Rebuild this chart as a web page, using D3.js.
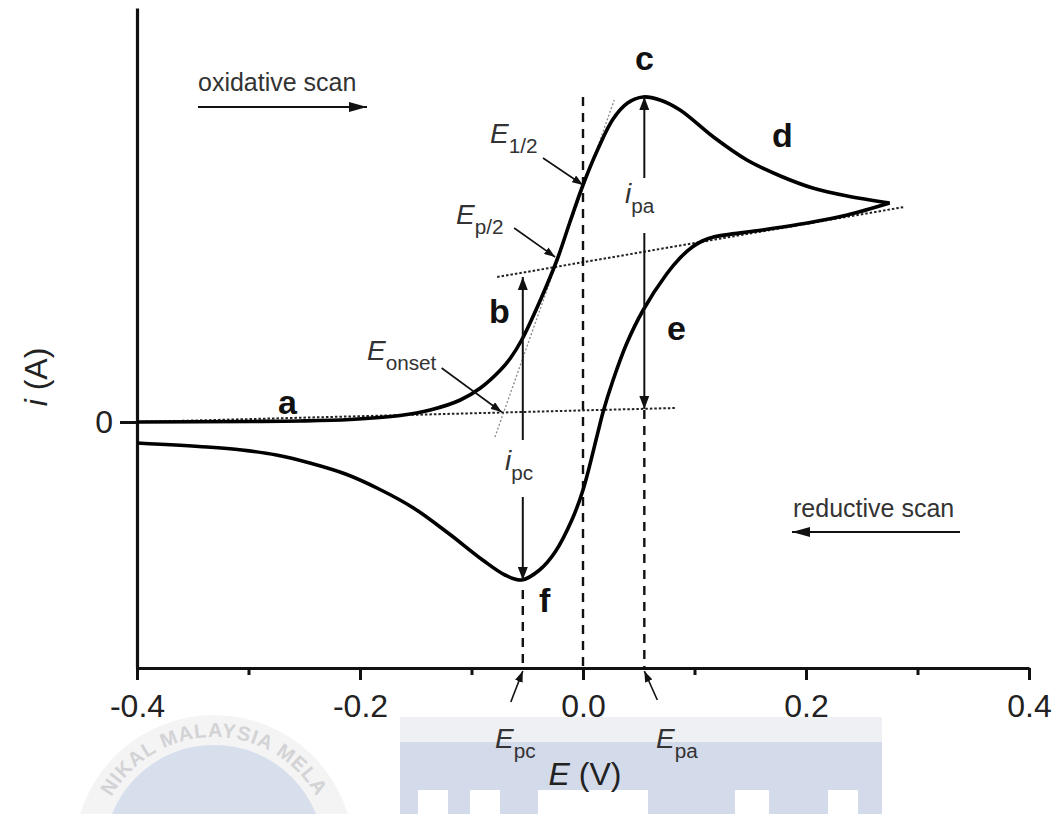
<!DOCTYPE html>
<html>
<head>
<meta charset="utf-8">
<script src="https://cdn.jsdelivr.net/npm/d3@7/dist/d3.min.js"></script>
<style>
  body { margin: 0; background: #fff; }
  text { font-family: "Liberation Sans", Arial, sans-serif; }
</style>
</head>
<body>
<div id="chart"></div>
<script>
// oxidative sweep (E in V, i in arbitrary units)
var fwdE = [-0.400, -0.299, -0.254, -0.209, -0.164, -0.137, -0.110, -0.092, -0.074, -0.065, -0.055, -0.039, -0.023, -0.012, 0.000, 0.013, 0.027, 0.040, 0.054, 0.069, 0.087, 0.117, 0.147, 0.177, 0.206, 0.237, 0.275];
var fwdI = [0.000, 0.005, 0.010, 0.025, 0.065, 0.12, 0.22, 0.34, 0.52, 0.64, 0.82, 1.20, 1.63, 1.99, 2.37, 2.72, 3.03, 3.19, 3.25, 3.22, 3.12, 2.85, 2.62, 2.46, 2.34, 2.26, 2.19];
// reductive sweep, from the switching potential back
var revE = [0.275, 0.237, 0.206, 0.161, 0.117, 0.107, 0.098, 0.087, 0.075, 0.054, 0.039, 0.027, 0.018, 0.013, 0.000, -0.010, -0.025, -0.039, -0.055, -0.070, -0.090, -0.121, -0.152, -0.183, -0.213, -0.245, -0.275, -0.306, -0.337, -0.400];
var revI = [2.19, 2.07, 2.00, 1.92, 1.85, 1.81, 1.75, 1.64, 1.48, 1.12, 0.78, 0.42, 0.10, -0.12, -0.68, -0.98, -1.30, -1.48, -1.58, -1.53, -1.38, -1.11, -0.86, -0.67, -0.52, -0.41, -0.33, -0.28, -0.25, -0.21];

var xTicks = [-0.4, -0.2, 0.0, 0.2, 0.4];
var xMinor = [-0.3, -0.1, 0.1, 0.3];
var yTicks = [0];

// characteristic points
var Epc = -0.054, Ehalf = 0.0, Epa = 0.055;
var ipa = 3.25, ipc = -1.58;
// extrapolated baselines and the tangent used for E_onset
var baseFwdE = [-0.400, 0.083], baseFwdI = [0.00, 0.14];
var baseRevE = [-0.077, 0.288], baseRevI = [1.45, 2.15];
var tanE = [-0.079, 0.028], tanI = [-0.15, 3.22];

var W = 1062, H = 814;
var svg = d3.select("#chart").append("svg").attr("width", W).attr("height", H);

var x = d3.scaleLinear().domain([-0.4, 0.4]).range([137, 1029]);
var y = d3.scaleLinear().domain([-2.46, 4.14]).range([668, 8]);

// --- faint watermark behind the plot ---
var wm = svg.append("g");
wm.append("circle").attr("cx", 214).attr("cy", 855).attr("r", 140).attr("fill", "#f4f4f5");
wm.append("circle").attr("cx", 214).attr("cy", 855).attr("r", 110).attr("fill", "#d7deec");
wm.append("path").attr("id", "wmArc").attr("fill", "none")
  .attr("d", d3.arc()({innerRadius: 118, outerRadius: 118, startAngle: -Math.PI * 0.40, endAngle: Math.PI * 0.40}))
  .attr("transform", "translate(214,855)");
wm.append("text").attr("font-size", 20).attr("font-weight", "bold").attr("fill", "#d3d3d6")
  .attr("letter-spacing", 1).attr("text-anchor", "middle")
  .append("textPath").attr("href", "#wmArc").attr("startOffset", "25%")
  .text("NIKAL MALAYSIA MELA");
wm.append("rect").attr("x", 400).attr("y", 717).attr("width", 482).attr("height", 97).attr("fill", "#eef0f4");
wm.append("rect").attr("x", 400).attr("y", 742).attr("width", 482).attr("height", 72).attr("fill", "#d3daea");
[[418, 30], [470, 30], [538, 110], [735, 34], [828, 30]].forEach(function(b) {
  wm.append("rect").attr("x", b[0]).attr("y", 790).attr("width", b[1]).attr("height", 24).attr("fill", "#fff");
});

// --- markers ---
var defs = svg.append("defs");
function marker(id, len, half) {
  defs.append("marker").attr("id", id)
    .attr("markerUnits", "userSpaceOnUse")
    .attr("viewBox", `0 0 ${len} ${half * 2}`)
    .attr("refX", len).attr("refY", half)
    .attr("markerWidth", len).attr("markerHeight", half * 2)
    .attr("orient", "auto")
    .append("path").attr("d", `M0,0L${len},${half}L0,${half * 2}Z`).attr("fill", "#111");
}
marker("headBig", 18, 5);
marker("headMid", 13, 5);
marker("headSmall", 11, 4);

// --- axes ---
var xAxis = d3.axisBottom(x).tickValues(xTicks).tickSize(12).tickSizeOuter(0).tickPadding(14)
  .tickFormat(function(d) { return d3.format(".1f")(d).replace("\u2212", "-"); });
svg.append("g").attr("transform", `translate(0,${y(-2.46)})`).call(xAxis);
svg.append("g").attr("transform", `translate(0,${y(-2.46)})`)
  .call(d3.axisBottom(x).tickValues(xMinor).tickSize(7).tickFormat(""))
  .call(function(g) { g.select(".domain").remove(); });

var yAxis = d3.axisLeft(y).tickValues(yTicks).tickSize(17).tickSizeOuter(0).tickPadding(7)
  .tickFormat(d3.format("d"));
svg.append("g").attr("transform", `translate(${x(-0.4)},0)`).call(yAxis);

svg.selectAll(".domain").attr("stroke", "#111").attr("stroke-width", 3.2);
svg.selectAll(".tick line").attr("stroke", "#111").attr("stroke-width", 3);
svg.selectAll(".tick text").attr("font-size", 32).attr("fill", "#222")
  .attr("font-family", "Liberation Sans, Arial, sans-serif");

// axis titles
var xt = svg.append("text").attr("x", 585).attr("y", 785).attr("text-anchor", "middle")
  .attr("font-size", 32).attr("fill", "#222");
xt.append("tspan").attr("font-style", "italic").text("E");
xt.append("tspan").text(" (V)");
var yt = svg.append("text").attr("transform", "translate(47,377) rotate(-90)")
  .attr("text-anchor", "middle").attr("font-size", 32).attr("fill", "#222");
yt.append("tspan").attr("font-style", "italic").text("i");
yt.append("tspan").text(" (A)");

// --- guide lines ---
function seg(E, I) { return d3.line()(E.map(function(e, k) { return [x(e), y(I[k])]; })); }
var guides = svg.append("g").attr("fill", "none");
guides.append("path").attr("d", seg(tanE, tanI)).attr("stroke", "#888").attr("stroke-width", 1.3).attr("stroke-dasharray", "2,2");
guides.append("path").attr("d", seg(baseFwdE, baseFwdI)).attr("stroke", "#222").attr("stroke-width", 2).attr("stroke-dasharray", "2.5,2");
guides.append("path").attr("d", seg(baseRevE, baseRevI)).attr("stroke", "#222").attr("stroke-width", 2).attr("stroke-dasharray", "2.5,2");

// vertical dashed markers at E1/2, Epc, Epa
guides.append("path").attr("d", seg([Ehalf, Ehalf], [ipa, -2.46])).attr("stroke", "#111").attr("stroke-width", 2.4).attr("stroke-dasharray", "9,7");
guides.append("path").attr("d", seg([Epc, Epc], [ipc - 0.1, -2.46])).attr("stroke", "#111").attr("stroke-width", 2.4).attr("stroke-dasharray", "9,7");
guides.append("path").attr("d", seg([Epa, Epa], [0.12, -2.46])).attr("stroke", "#111").attr("stroke-width", 2.4).attr("stroke-dasharray", "9,7");

// --- voltammogram ---
var line = d3.line().x(function(d) { return x(d[0]); }).y(function(d) { return y(d[1]); })
  .curve(d3.curveCatmullRom.alpha(0.5));
svg.append("path").datum(fwdE.map(function(e, k) { return [e, fwdI[k]]; }))
  .attr("d", line).attr("fill", "none").attr("stroke", "#000").attr("stroke-width", 3.6);
svg.append("path").datum(revE.map(function(e, k) { return [e, revI[k]]; }))
  .attr("d", line).attr("fill", "none").attr("stroke", "#000").attr("stroke-width", 3.6);

// --- peak-current arrows ---
function arrow(x1, y1, x2, y2, head, w) {
  svg.append("line").attr("x1", x1).attr("y1", y1).attr("x2", x2).attr("y2", y2)
    .attr("stroke", "#111").attr("stroke-width", w || 1.6).attr("marker-end", `url(#${head})`);
}
arrow(x(Epa), 178, x(Epa), y(ipa), "headMid", 2);
arrow(x(Epa), 233, x(Epa), y(0.13), "headMid", 2);
arrow(x(Epc), 440, x(Epc), y(1.45), "headMid", 2);
arrow(x(Epc), 497, x(Epc), y(ipc), "headMid", 2);

// scan direction arrows
arrow(198, 107, 367, 107, "headBig", 2.2);
arrow(960, 532, 792, 532, "headBig", 2.2);
svg.append("text").attr("x", 198).attr("y", 91).attr("font-size", 25).attr("fill", "#333").text("oxidative scan");
svg.append("text").attr("x", 793).attr("y", 517).attr("font-size", 25).attr("fill", "#333").text("reductive scan");

// --- labelled potentials ---
function sub(xp, yp, main, s, size) {
  var t = svg.append("text").attr("x", xp).attr("y", yp).attr("font-size", size).attr("fill", "#333");
  t.append("tspan").attr("font-style", "italic").text(main);
  t.append("tspan").attr("font-size", size * 0.74).attr("dy", size * 0.34).text(s);
}
sub(490, 143, "E", "1/2", 28);
sub(456, 224, "E", "p/2", 28);
sub(367, 360, "E", "onset", 28);
sub(625, 203, "i", "pa", 28);
sub(505, 470, "i", "pc", 28);
sub(495, 748, "E", "pc", 28);
sub(656, 748, "E", "pa", 28);

arrow(x(Ehalf) - 40, y(2.37) - 27, x(Ehalf), y(2.37), "headSmall", 1.6);
arrow(x(-0.025) - 41, y(1.65) - 29, x(-0.025), y(1.65), "headSmall", 1.6);
arrow(x(-0.073) - 60, y(0.10) - 44, x(-0.073), y(0.10), "headSmall", 1.6);
arrow(x(Epc) - 12, 702, x(Epc), 671, "headSmall", 1.6);
arrow(x(Epa) + 13, 700, x(Epa), 671, "headSmall", 1.6);

// --- region letters ---
var letters = [["a", 278, 414], ["b", 489, 323], ["c", 635, 70], ["d", 772, 147], ["e", 667, 340], ["f", 539, 612]];
svg.selectAll(".lbl").data(letters).enter().append("text").attr("class", "lbl")
  .attr("x", function(d) { return d[1]; }).attr("y", function(d) { return d[2]; })
  .attr("font-size", 34).attr("font-weight", "bold").attr("fill", "#111")
  .text(function(d) { return d[0]; });
</script>
</body>
</html>
